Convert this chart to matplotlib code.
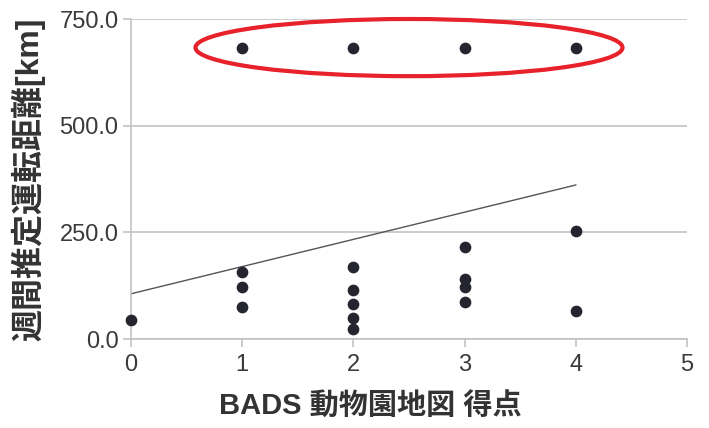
import matplotlib.pyplot as plt
from matplotlib.patches import Ellipse

plt.rcParams['font.family'] = ['Liberation Sans', 'DejaVu Sans']

# BADS score vs. weekly estimated driving distance
score_x = [0,
           1, 1, 1, 1,
           2, 2, 2, 2, 2, 2,
           3, 3, 3, 3, 3,
           4, 4, 4]
distance_km = [45,
               158, 123, 75, 681,
               169, 116, 82, 50, 24, 681,
               216, 140, 123, 87, 681,
               254, 66, 681]

# fitted trend line end points
trend_x = [0, 4]
trend_y = [106, 361]

# outlier group highlighted with an ellipse
outlier_center = (2.5, 683)
outlier_w, outlier_h = 3.84, 134

x_ticks = [0, 1, 2, 3, 4, 5]
y_ticks = [0, 250, 500, 750]

fig = plt.figure(figsize=(7.09, 4.28), dpi=100)
ax = fig.add_axes([131 / 709, 1 - 339 / 428, 556 / 709, 320 / 428])

grid_c = '#bfbfbf'
ax.set_xlim(0, 5)
ax.set_ylim(0, 750)
ax.set_xticks(x_ticks)
ax.set_yticks(y_ticks)
ax.set_yticklabels([f'{v:.1f}' for v in y_ticks])
ax.yaxis.grid(True, color=grid_c, lw=1.1)
ax.set_axisbelow(True)
for s in ['top', 'right']:
    ax.spines[s].set_visible(False)
for s in ['left', 'bottom']:
    ax.spines[s].set_color(grid_c)
    ax.spines[s].set_linewidth(1.1)
ax.tick_params(axis='both', colors=grid_c, labelcolor='#3a3a3a',
               labelsize=17, length=6, width=1.1)
ax.tick_params(axis='x', pad=5)
ax.tick_params(axis='y', pad=3)

ax.plot(trend_x, trend_y, color='#555555', lw=1.0, zorder=2)
ax.scatter(score_x, distance_km, s=55, color='#25252f', zorder=3, clip_on=False)

ax.add_patch(Ellipse(outlier_center, outlier_w, outlier_h, fill=False,
                     edgecolor='#e8222a', lw=3.0, clip_on=False, zorder=4))

label_font = ['Liberation Sans', 'Noto Sans CJK JP', 'DejaVu Sans']
fig.text(370 / 709, 1 - 407 / 428, 'BADS 動物園地図 得点', family=label_font,
         fontsize=21, fontweight='bold', color='#333333', ha='center', va='center')
fig.text(28 / 709, 1 - 179 / 428, '週間推定運転距離[km]', family=label_font,
         fontsize=23, fontweight='bold', color='#333333', ha='center', va='center',
         rotation=90)

fig.savefig('out.png', dpi=100)
